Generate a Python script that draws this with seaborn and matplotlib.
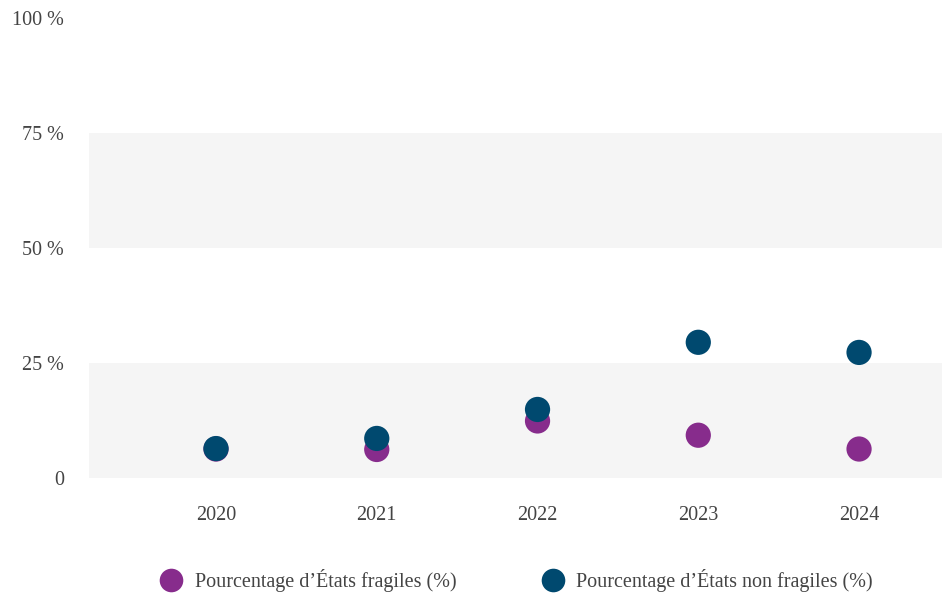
import matplotlib
matplotlib.use("Agg")
import matplotlib.pyplot as plt
import seaborn as sns
import pandas as pd

years = ["2020", "2021", "2022", "2023", "2024"]
fragile = [6.3, 6.2, 12.4, 9.3, 6.3]
non_fragile = [6.4, 8.6, 14.9, 29.5, 27.3]
series_names = ["Pourcentage d’États fragiles (%)", "Pourcentage d’États non fragiles (%)"]
y_ticks = [0, 25, 50, 75, 100]
y_labels = ["0", "25 %", "50 %", "75 %", "100 %"]

sns.set_theme(style="white")
plt.rcParams['font.family'] = ['Liberation Serif', 'DejaVu Serif']

df = pd.DataFrame({
    "year": years * 2,
    "value": fragile + non_fragile,
    "series": [series_names[0]] * len(years) + [series_names[1]] * len(years),
})

colors = {series_names[0]: "#872C8C", series_names[1]: "#00496F"}

fig = plt.figure(figsize=(9.44, 5.96), dpi=100)
ax = fig.add_axes([89/944, 1 - 478/596, (942-89)/944, (478-18)/596])

ax.axhspan(0, 25, color="#f5f5f5", zorder=0, lw=0)
ax.axhspan(50, 75, color="#f5f5f5", zorder=0, lw=0)

sns.scatterplot(data=df, x="year", y="value", hue="series", palette=colors,
                s=330, linewidth=0, ax=ax, zorder=3, legend=False)

ax.set_ylim(0, 100)
ax.set_xlim(-0.79, 4.516)
ax.set_yticks(y_ticks)
ax.set_yticklabels(y_labels)
ax.set_xlabel("")
ax.set_ylabel("")
for s in ax.spines.values():
    s.set_visible(False)
ax.tick_params(axis="y", length=0, pad=18, labelsize=14.5, labelcolor="#444444")
ax.tick_params(axis="x", length=0, pad=20.5, labelsize=14.5, labelcolor="#444444")
ax.grid(False)

handles = [plt.Line2D([], [], marker="o", linestyle="", markersize=17,
                      markerfacecolor=colors[n], markeredgewidth=0) for n in series_names]
fig.legend(handles, series_names, loc="center", bbox_to_anchor=(516/944, 1 - 581/596),
           ncol=2, frameon=False, fontsize=14.5, labelcolor="#444444",
           handletextpad=0.55, columnspacing=4.2, handlelength=1.2)

fig.savefig("out.png", dpi=100)
